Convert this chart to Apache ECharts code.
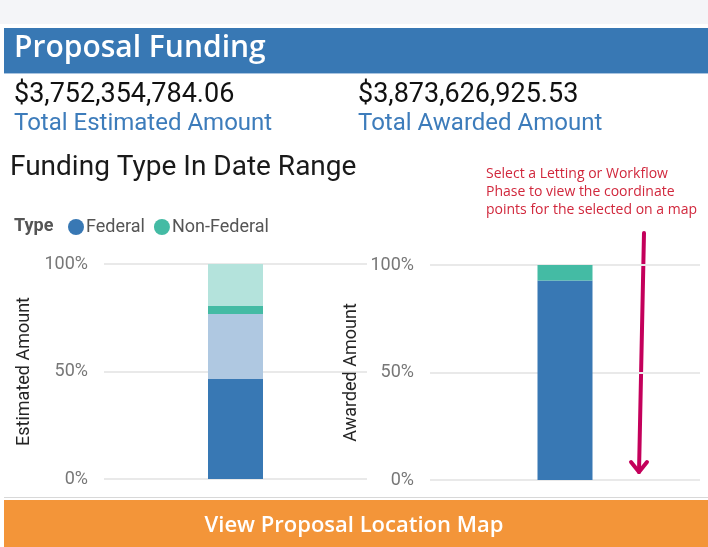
<!DOCTYPE html>
<html>
<head>
<meta charset="utf-8">
<title>Proposal Funding</title>
<script src="https://cdn.jsdelivr.net/npm/echarts@6/dist/echarts.min.js"></script>
<style>
  html, body { margin: 0; padding: 0; background: #fff; }
  #chart { width: 708px; height: 547px; }
</style>
</head>
<body>
<div id="chart"></div>
<script>
// totals shown in the header
var totalEstimated = '$3,752,354,784.06',
    totalAwarded = '$3,873,626,925.53';

// one bar per chart
var categories = ['All'];
var typeNames = ['Federal', 'Non-Federal'];
var yTicks = [0, 50, 100];

// estimated amount (%) - highlighted part + remaining part of each type
var estFederalSel = [46.5],
    estFederalRest = [30.2],
    estNonFedSel = [3.8],
    estNonFedRest = [19.5];

// awarded amount (%)
var awdFederal = [92.8],
    awdNonFed = [7.2];

var BLUE = '#3878b4', BLUE_LIGHT = '#afc8e1',
    TEAL = '#44bba4', TEAL_LIGHT = '#b4e3dc';
var FONT = 'Roboto, "Noto Sans", sans-serif';
var WIDE = '"Open Sans", Roboto, sans-serif';

var chart = echarts.init(document.getElementById('chart'), null, { renderer: 'canvas' });

function yAxis(name, gap) {
    return {
        type: 'value', min: yTicks[0], max: yTicks[yTicks.length - 1], interval: yTicks[1] - yTicks[0],
        name: name, nameLocation: 'middle', nameGap: gap,
        nameTextStyle: { color: '#252525', fontSize: 18, fontFamily: FONT },
        axisLine: { show: false }, axisTick: { show: false },
        axisLabel: { formatter: '{value}%', color: '#777', fontSize: 18, fontFamily: FONT, margin: 16 },
        splitLine: { lineStyle: { color: '#e9e9e9', width: 2 } }
    };
}
function xAxis(idx) {
    return {
        type: 'category', gridIndex: idx, data: categories,
        axisLine: { show: false }, axisTick: { show: false }, axisLabel: { show: false }
    };
}
function bar(name, data, color, idx, stack) {
    return {
        name: name, type: 'bar', stack: stack, data: data,
        xAxisIndex: idx, yAxisIndex: idx, barWidth: 55,
        itemStyle: { color: color }
    };
}

var option = {
    animation: false,
    backgroundColor: '#fff',
    textStyle: { fontFamily: FONT },
    legend: {
        data: typeNames, left: 63, top: 213, icon: 'circle',
        itemWidth: 16, itemHeight: 16, itemGap: 9,
        textStyle: { color: '#555', fontSize: 18, fontFamily: FONT, padding: [0, 0, 0, -3] }
    },
    grid: [
        { left: 104, right: 341, top: 264, bottom: 68 },
        { left: 430, right: 8, top: 265, bottom: 67 }
    ],
    xAxis: [xAxis(0), xAxis(1)],
    yAxis: [
        Object.assign(yAxis('Estimated Amount', 71), { gridIndex: 0 }),
        Object.assign(yAxis('Awarded Amount', 70), { gridIndex: 1 })
    ],
    series: [
        bar('Federal', estFederalSel, BLUE, 0, 'est'),
        bar('Federal', estFederalRest, BLUE_LIGHT, 0, 'est'),
        bar('Non-Federal', estNonFedSel, TEAL, 0, 'est'),
        bar('Non-Federal', estNonFedRest, TEAL_LIGHT, 0, 'est'),
        bar('Federal', awdFederal, BLUE, 1, 'awd'),
        bar('Non-Federal', awdNonFed, TEAL, 1, 'awd')
    ],
    graphic: [
        // page band + card
        { type: 'rect', silent: true, z: -10, shape: { x: 0, y: 0, width: 708, height: 24 }, style: { fill: '#f4f5f8' } },
        { type: 'rect', silent: true, z: -10, shape: { x: 4, y: 28, width: 704, height: 45 }, style: { fill: '#3878b4' } },
        { type: 'rect', silent: true, z: -10, shape: { x: 4, y: 73, width: 704, height: 1 }, style: { fill: '#a9c4e0' } },
        { type: 'text', left: 14, top: 33, style: { text: 'Proposal Funding', fill: '#fff', font: '600 30px ' + WIDE } },
        { type: 'text', left: 14, top: 82, style: { text: totalEstimated, fill: '#111', font: '27px ' + FONT } },
        { type: 'text', left: 358, top: 82, style: { text: totalAwarded, fill: '#111', font: '27px ' + FONT } },
        { type: 'text', left: 14, top: 112, style: { text: 'Total Estimated Amount', fill: '#3d7cbb', font: '24px ' + FONT } },
        { type: 'text', left: 358, top: 112, style: { text: 'Total Awarded Amount', fill: '#3d7cbb', font: '24px ' + FONT } },
        { type: 'text', left: 10, top: 154, style: { text: 'Funding Type In Date Range', fill: '#1a1a1a', font: '28px ' + FONT } },
        { type: 'text', left: 14, top: 217, style: { text: 'Type', fill: '#555', font: 'bold 18px ' + FONT } },
        // note + arrow
        { type: 'text', left: 486, top: 165, style: {
            text: 'Select a Letting or Workflow\nPhase to view the coordinate\npoints for the selected on a map',
            fill: '#d1273c', font: '14px ' + WIDE, lineHeight: 18 } },
        { type: 'polyline', silent: true, shape: { points: [[644, 233], [639, 472]] },
          style: { stroke: '#c4005b', lineWidth: 4, lineCap: 'round' } },
        { type: 'polyline', silent: true, shape: { points: [[631, 462], [639, 472], [647, 462]] },
          style: { stroke: '#c4005b', lineWidth: 4, lineCap: 'round', lineJoin: 'round', fill: null } },
        // button
        { type: 'rect', silent: true, shape: { x: 4, y: 497, width: 704, height: 1 }, style: { fill: '#d8d8d8' } },
        { type: 'rect', silent: true, shape: { x: 4, y: 500, width: 704, height: 47 }, style: { fill: '#f39539' } },
        { type: 'text', left: 'center', top: 515, style: { text: 'View Proposal Location Map', fill: '#fff', font: '600 22px ' + WIDE } }
    ]
};
chart.setOption(option);
</script>
</body>
</html>
